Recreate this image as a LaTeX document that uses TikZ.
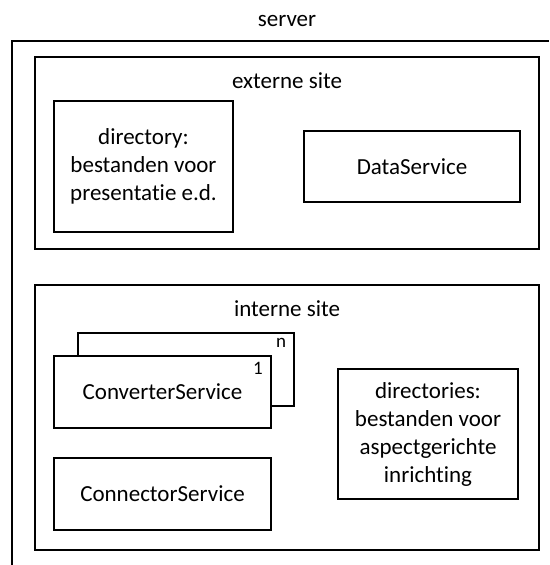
\documentclass[tikz,border=0pt]{standalone}
\usepackage{fontspec}
\setmainfont[Ligatures=NoCommon]{Carlito}
\begin{document}
\begin{tikzpicture}[x=1pt,y=-1pt,
  box/.style={draw, line width=1.4pt, inner sep=0pt, align=center, fill=white,
    font=\fontsize{23}{28}\selectfont},
  lbl/.style={inner sep=0pt, font=\fontsize{23}{28}\selectfont},
  small/.style={inner sep=0pt, font=\fontsize{19}{22}\selectfont},
  frame/.style={draw, line width=1.4pt}]
\useasboundingbox (0,0) rectangle (549,565);
% server frame (open to the right and bottom)
\coordinate (sbl) at (12,565);
\coordinate (stl) at (12,41);
\coordinate (str) at (549,41);
\draw[frame] (sbl) -- (stl) -- (str);
\node[lbl] (server) at (287,21) {server};
% externe site
\node[box, minimum width=504pt, minimum height=192pt] (ext) at (287,153) {};
\node[lbl] (extlbl) at (287,81) {externe site};
\node[box, minimum width=179pt, minimum height=131pt] (dir) at (143.5,166.5)
  {directory:\\bestanden voor\\presentatie e.d.};
\node[box, minimum width=216pt, minimum height=71pt] (data) at (412,166.5) {DataService};
% interne site
\node[box, minimum width=504pt, minimum height=265pt] (int) at (287,417.5) {};
\node[lbl] (intlbl) at (287,309) {interne site};
\node[box, minimum width=216pt, minimum height=73pt] (convn) at (186,369.5) {};
\node[small] (nlbl) at (281,343) {n};
\node[box, minimum width=217pt, minimum height=72pt] (conv1) at (162.5,392) {ConverterService};
\node[small] (onelbl) at (258,368) {1};
\node[box, minimum width=217pt, minimum height=72pt] (conn) at (162.5,494) {ConnectorService};
\node[box, minimum width=180pt, minimum height=130pt] (dirs) at (428,434)
  {directories:\\bestanden voor\\aspectgerichte\\inrichting};
\end{tikzpicture}
\end{document}
